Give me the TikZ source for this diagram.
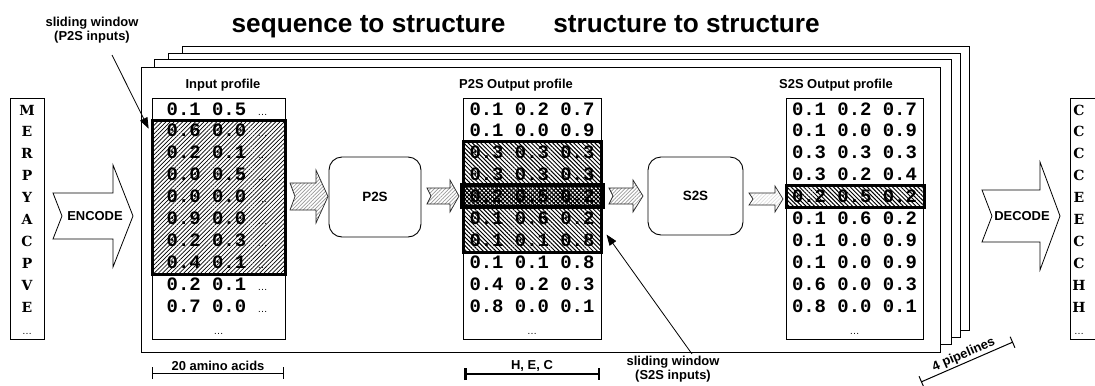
\documentclass[tikz,border=0pt]{standalone}
\usepackage{fontspec}
\setmainfont{Liberation Sans}
\newfontfamily\numfont{Liberation Mono}
\newfontfamily\seqfont{DejaVu Serif}
\usetikzlibrary{patterns,patterns.meta,arrows.meta,calc}

\newcommand{\ellip}{{\rmfamily\mdseries\fontsize{10}{10}\selectfont …}}
% block arrow: x-left, x-head, x-tip, y-centre, shaft half height, head half height, notch depth, style
\newcommand{\blockarrow}[8]{%
  \draw[#8] (#1,{#4-#5}) -- (#2,{#4-#5}) -- (#2,{#4-#6}) -- (#3,#4) -- (#2,{#4+#6})
    -- (#2,{#4+#5}) -- (#1,{#4+#5}) -- ({#1+#7},#4) -- cycle;}

\tikzset{
  title/.style={font=\fontsize{26.3}{30}\selectfont\bfseries, inner sep=0pt},
  lbl/.style={font=\fontsize{13}{14}\selectfont\bfseries, inner sep=0pt},
  frame/.style={draw, fill=white, line width=0.9bp},
  tablebox/.style={draw, fill=white, line width=0.9bp, inner sep=0pt},
  numrow/.style={font=\fontsize{19}{20}\selectfont\numfont\bfseries, inner sep=0pt},
  seqch/.style={font=\fontsize{14}{14}\selectfont\seqfont\bfseries, inner sep=0pt, anchor=base},
  dotrow/.style={font=\fontsize{10}{10}\selectfont, inner sep=0pt, anchor=base},
  proc/.style={draw, rounded corners=13bp, line width=0.9bp, fill=white,
    font=\fontsize{13.5}{14}\selectfont\bfseries},
  winA/.style={draw, line width=3bp, inner sep=0pt,
    pattern={Lines[angle=45,distance=3pt,line width=0.7pt]}},
  winB/.style={draw, line width=3bp, inner sep=0pt,
    pattern={Lines[angle=-45,distance=3pt,line width=1pt]}},
  winC/.style={draw, line width=4bp, inner sep=0pt,
    pattern={Hatch[angle=45,distance=3pt,line width=0.9pt]}},
  bigarr/.style={draw, fill=white, line width=0.8bp},
  hatcharr/.style={draw=black!85, line width=0.7bp, preaction={fill=white},
    pattern={Lines[angle=45,distance=2.6pt,line width=0.7pt]}, pattern color=gray!80},
  lightarr/.style={draw=black!85, line width=0.7bp, preaction={fill=white},
    pattern={Lines[angle=45,distance=2.6pt,line width=0.6pt]}, pattern color=gray!30},
  pointer/.style={line width=0.8bp, -{Triangle[length=11bp,width=8bp]}},
  scalebar/.style={line width=#1, {Bar[width=12bp]}-{Bar[width=12bp]}},
}

\begin{document}
\begin{tikzpicture}[x=1bp,y=-1bp]
\useasboundingbox (0,0) rectangle (1095,385);
\clip (0,0) rectangle (1095,385);

% headings
\node[title, anchor=base] (head1) at (368.5,32) {sequence to structure};
\node[title, anchor=base] (head2) at (686.5,32) {structure to structure};

% stacked pipelines, back to front
\draw[frame] (182,46) rectangle (969,330);
\draw[frame] (168,53) rectangle (960,337);
\draw[frame] (154,59) rectangle (951,344);
\draw[frame] (141,67) rectangle (940,352);

% amino acid sequence
\node[tablebox, minimum width=34bp, minimum height=241bp] (seqin) at (27,218.5) {};
\foreach \c [count=\i from 0] in {M,E,R,P,Y,A,C,P,V,E}
  \node[seqch] (sa\i) at (27,{115+21.9*\i}) {\c};
\node[dotrow] (sadots) at (27,334) {…};

% predicted structure
\node[tablebox, minimum width=40bp, minimum height=241bp] (seqout) at (1090,218.5) {};
\foreach \c [count=\i from 0] in {C,C,C,C,E,E,C,C,H,H}
  \node[seqch] (sb\i) at (1079,{115+21.9*\i}) {\c};
\node[dotrow] (sbdots) at (1079,334) {…};

% encode / decode
\blockarrow{53}{113}{133}{216}{23}{51}{9}{bigarr}
\node[lbl] (enc) at (95,216) {ENCODE};
\blockarrow{982}{1040}{1060}{216}{26}{54}{10}{bigarr}
\node[lbl] (dec) at (1022,216) {DECODE};

% profile labels
\node[lbl, anchor=base] (inlab) at (223,88) {Input profile};
\node[lbl, anchor=base] (p2slab) at (516,88) {P2S Output profile};
\node[lbl, anchor=base] (s2slab) at (836,88) {S2S Output profile};

% input profile
\node[tablebox, minimum width=133bp, minimum height=240.5bp] (intab) at (218.5,218.75) {};
\foreach \t [count=\i from 0] in {0.1 0.5,0.6 0.0,0.2 0.1,0.0 0.5,0.0 0.0,0.9 0.0,0.2 0.3,0.4 0.1,0.2 0.1,0.7 0.0}
  \node[numrow, anchor=base west] (in\i) at (166.5,{115+21.9*\i}) {\t\ \ellip};
\node[dotrow] (indots) at (218.5,334) {…};
\node[winA, minimum width=133bp, minimum height=154bp] (inwin) at (218.5,197) {};

% P2S output profile
\node[tablebox, minimum width=138bp, minimum height=240.5bp] (p2stab) at (532,218.75) {};
\foreach \t [count=\i from 0] in {0.1 0.2 0.7,0.1 0.0 0.9,0.3 0.3 0.3,0.3 0.3 0.3,0.2 0.5 0.2,0.1 0.6 0.2,0.1 0.1 0.8,0.1 0.1 0.8,0.4 0.2 0.3,0.8 0.0 0.1}
  \node[numrow, anchor=base] (ps\i) at (532,{115+21.9*\i}) {\t};
\node[dotrow] (psdots) at (532,334) {…};
\node[winB, minimum width=138bp, minimum height=111bp] (p2swin) at (532,196.5) {};
\node[winC, minimum width=140.5bp, minimum height=21.5bp] (p2smid) at (532.25,196) {};

% S2S output profile
\node[tablebox, minimum width=137bp, minimum height=240.5bp] (s2stab) at (854.5,218.75) {};
\foreach \t [count=\i from 0] in {0.1 0.2 0.7,0.1 0.0 0.9,0.3 0.3 0.3,0.3 0.2 0.4,0.2 0.5 0.2,0.1 0.6 0.2,0.1 0.0 0.9,0.1 0.0 0.9,0.6 0.0 0.3,0.8 0.0 0.1}
  \node[numrow, anchor=base] (ss\i) at (854.5,{115+21.9*\i}) {\t};
\node[dotrow] (ssdots) at (854.5,334) {…};
\node[winB, minimum width=138bp, minimum height=22bp] (s2swin) at (855,196.5) {};

% networks
\node[proc, minimum width=92bp, minimum height=80bp] (p2s) at (375,197) {P2S};
\node[proc, minimum width=95bp, minimum height=78bp] (s2s) at (695.5,196) {S2S};

% data flow
\blockarrow{290}{316}{328}{196.5}{13.5}{26.5}{5}{hatcharr}
\blockarrow{427}{450}{459}{196}{8}{16}{4}{hatcharr}
\blockarrow{609}{633}{643}{196}{8}{16}{4}{hatcharr}
\blockarrow{749}{775}{783}{199}{6}{13}{4}{lightarr}

% sliding windows
\node[lbl, align=center, font=\fontsize{13}{14}\selectfont\bfseries] (sw1) at (92,30.5) {sliding window\\(P2S inputs)};
\coordinate (sw1tail) at (112,55);
\coordinate (sw1tip) at ($(inwin.north west)+(-3,9)$);
\draw[pointer] (sw1tail) -- (sw1tip);
\node[lbl, align=center, font=\fontsize{13}{14}\selectfont\bfseries] (sw2) at (673,369.5) {sliding window\\(S2S inputs)};
\coordinate (sw2tail) at (692,354);
\coordinate (sw2tip) at ($(p2swin.south east)+(5,-18)$);
\draw[pointer] (sw2tail) -- (sw2tip);

% scale bars
\coordinate (aa1) at (152,373);
\coordinate (aa2) at (284,373);
\draw[scalebar=1bp] (aa1) -- node[lbl, above, inner sep=1.5bp] {20 amino acids} (aa2);
\coordinate (hec1) at (464,374);
\coordinate (hec2) at (600,374);
\draw[scalebar=2.5bp] (hec1) -- node[lbl, above, inner sep=1bp] {H, E, C} (hec2);
\coordinate (pl1) at (921,382);
\coordinate (pl2) at (1013,342);
\draw[scalebar=1bp] (pl1) -- node[lbl, above, sloped, inner sep=1.5bp] {4 pipelines} (pl2);
\end{tikzpicture}
\end{document}
